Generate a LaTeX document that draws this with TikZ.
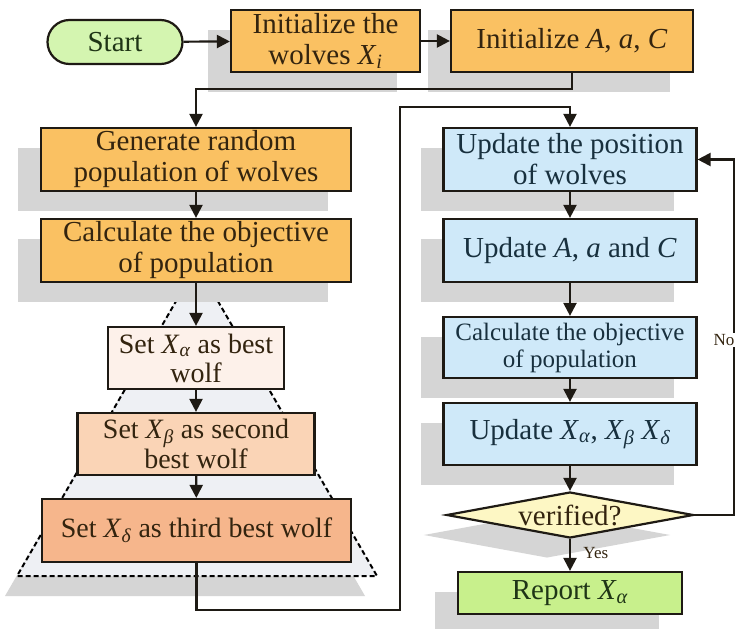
\documentclass[tikz,border=0pt]{standalone}
\usepackage{fontspec}
\setmainfont{Liberation Serif}
\usetikzlibrary{arrows.meta,shapes.geometric,shadows,calc}
\definecolor{orangefill}{HTML}{FAC162}
\definecolor{bluefill}{HTML}{CFE9F9}
\definecolor{startfill}{HTML}{D4F5B0}
\definecolor{repfill}{HTML}{C8F08C}
\definecolor{verfill}{HTML}{FDF7C4}
\definecolor{afill}{HTML}{FDF1EA}
\definecolor{bfill}{HTML}{FAD4B6}
\definecolor{dfill}{HTML}{F6B68C}
\definecolor{trifill}{HTML}{EEF0F4}
\definecolor{shadowgray}{HTML}{D5D5D5}
\definecolor{txtbrown}{HTML}{33240F}
\definecolor{txtblue}{HTML}{18303E}
\definecolor{txtgreen}{HTML}{1F3516}
\definecolor{boxline}{HTML}{1E1A14}
\newcommand{\Xs}[1]{\textit{X}\textsubscript{\textit{#1}}}
\begin{document}
\begin{tikzpicture}[x=1pt,y=-1pt,
  base/.style={draw=boxline, line width=2.2pt, inner sep=0pt, align=center,
    font=\fontsize{29}{31}\selectfont},
  shad/.style={general shadow={fill=shadowgray, shadow xshift=-23pt, shadow yshift=-20pt}},
  obox/.style={base, shad, fill=orangefill, text=txtbrown},
  bbox/.style={base, shad, fill=bluefill, text=txtblue},
  setbox/.style={base, text=txtbrown, font=\fontsize{28}{29}\selectfont},
  arr/.style={line width=2.2pt, draw=boxline, -{Triangle[length=13pt,width=13pt]}},
  lbl/.style={font=\fontsize{17}{17}\selectfont, text=txtbrown}
]
\useasboundingbox (0,0) rectangle (737,629);
\fill[white] (0,0) rectangle (737,629);

% dashed hierarchy triangle with its shadow
\fill[shadowgray] (185,285) -- (5,596) -- (365,596) -- cycle;
\draw[fill=trifill, line width=2pt, dash pattern=on 5pt off 3pt] (197,265) -- (17,576) -- (377,576) -- cycle;

% nodes
\node[base, fill=startfill, text=txtgreen, rounded corners=22pt, minimum width=135pt, minimum height=44pt] (start) at (115,42) {Start};
\node[obox, minimum width=189pt, minimum height=62pt] (wolves) at (325.5,41) {Initialize the\\wolves \Xs{i}};
\node[obox, minimum width=242pt, minimum height=62pt] (initA) at (572,41) {Initialize \textit{A}, \textit{a}, \textit{C}};
\node[obox, minimum width=310pt, minimum height=63pt] (gen) at (196,159.5) {Generate random\\population of wolves};
\node[obox, minimum width=310pt, minimum height=63pt] (calc1) at (196,250.5) {Calculate the objective\\of population};
\node[setbox, fill=afill, minimum width=176pt, minimum height=62pt] (setA) at (196,358) {Set \Xs{α} as best\\wolf};
\node[setbox, fill=bfill, minimum width=237pt, minimum height=62pt] (setB) at (196,444) {Set \Xs{β} as second\\best wolf};
\node[setbox, fill=dfill, minimum width=309pt, minimum height=63pt] (setD) at (196.5,530.5) {Set \Xs{δ} as third best wolf};

\node[bbox, minimum width=253pt, minimum height=63pt] (up1) at (570,159.5) {Update the position\\of wolves};
\node[bbox, minimum width=253pt, minimum height=63pt] (up2) at (570,250.5) {Update \textit{A}, \textit{a} and \textit{C}};
\node[bbox, minimum width=253pt, minimum height=61pt, font=\fontsize{25}{27}\selectfont] (calc2) at (570,347.5) {Calculate the objective\\of population};
\node[bbox, minimum width=253pt, minimum height=62pt] (up3) at (570,434) {Update \Xs{α}, \Xs{β} \Xs{δ}};
\node[base, shad, diamond, aspect=5.37, fill=verfill, text=txtbrown, minimum width=247pt, minimum height=46pt] (ver) at (570,515) {verified?};
\node[base, shad, fill=repfill, text=txtgreen, minimum width=224pt, minimum height=42pt] (rep) at (570,593) {Report \Xs{α}};

% helper coordinates
\coordinate (c1) at (400,610);
\coordinate (c2) at (400,107);
\coordinate (noC) at (734,340);

% connectors
\draw[arr] (start) -- (wolves);
\draw[arr] (wolves) -- (initA);
\draw[arr] (initA.south) -- ++(0,16) -| (gen.north);
\draw[arr] (gen) -- (calc1);
\draw[arr] (calc1) -- (setA);
\draw[arr] (setA) -- (setB);
\draw[arr] (setB) -- (setD);
\draw[arr] (setD.south) |- (c1) -- (c2) -| (up1.north);
\draw[arr] (up1) -- (up2);
\draw[arr] (up2) -- (calc2);
\draw[arr] (calc2) -- (up3);
\draw[arr] (up3) -- (ver);
\draw[arr] (ver) -- node[pos=0.45, right=9pt, lbl] (yes) {Yes} (rep);
\draw[arr] (ver.east) -| (noC) |- (up1.east);
\node[lbl, fill=white, inner sep=1.5pt] (no) at (724,340) {No};
\end{tikzpicture}
\end{document}
